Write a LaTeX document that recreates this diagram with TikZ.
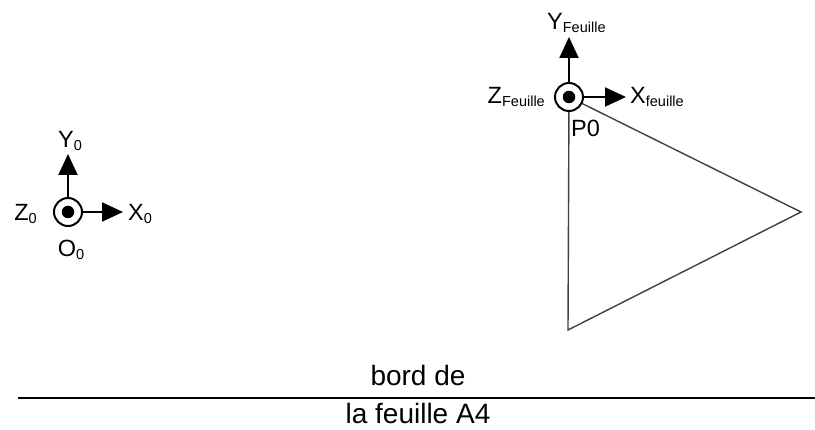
\documentclass[tikz,border=0pt]{standalone}
\usepackage{fontspec}
\setmainfont{Liberation Sans}
\usetikzlibrary{arrows.meta}
\newcommand{\mysub}[1]{\raisebox{-2.5pt}{\fontsize{14.5}{14.5}\selectfont #1}}
\begin{document}
\begin{tikzpicture}[x=1pt,y=-1pt,
  axisarrow/.style={line width=2pt,-{Triangle[length=21pt,width=19pt]}},
  axislabel/.style={inner sep=0pt,font=\fontsize{23.5}{23.5}\selectfont},
  origin/.style={circle,draw,line width=2pt,fill=white,minimum size=28pt,inner sep=0pt},
  origindot/.style={circle,fill=black,minimum size=12.5pt,inner sep=0pt},
  shapeline/.style={line width=1.4pt,draw=black!75},
  bordtext/.style={inner sep=0pt,font=\fontsize{28}{28}\selectfont}]
\useasboundingbox (0,0) rectangle (815,430);

% sheet edge
\coordinate (e1) at (18,398);
\coordinate (e2) at (815,398);
\draw[line width=2.5pt] (e1) -- (e2);
\node[bordtext,anchor=base] (bord) at (418,386) {bord de};
\node[bordtext,anchor=base] (feuille) at (418,424) {la feuille A4};

% triangle (sheet)
\coordinate (P) at (569,97);
\coordinate (T2) at (801,212);
\coordinate (T3) at (568,330);
\draw[shapeline] (P) -- (T2) -- (T3) -- cycle;

% frame 0
\coordinate (O) at (68,212);
\coordinate (Y0tip) at (68,154);
\coordinate (X0tip) at (123,212);
\draw[axisarrow] (O) -- (Y0tip);
\draw[axisarrow] (O) -- (X0tip);
\node[origin] (Ocirc) at (O) {};
\node[origindot] (Odot) at (O) {};
\node[axislabel,anchor=base] (Y0lab) at (70,148) {Y\mysub{0}};
\node[axislabel,anchor=base east] (Z0lab) at (37,221) {Z\mysub{0}};
\node[axislabel,anchor=base west] (X0lab) at (128,221) {X\mysub{0}};
\node[axislabel,anchor=base] (O0lab) at (71,257) {O\mysub{0}};

% frame Feuille
\coordinate (YFtip) at (569,37);
\coordinate (XFtip) at (626,97);
\draw[axisarrow] (P) -- (YFtip);
\draw[axisarrow] (P) -- (XFtip);
\node[origin] (Pcirc) at (P) {};
\node[origindot] (Pdot) at (P) {};
\node[axislabel,anchor=base west] (YFlab) at (547,30) {Y\mysub{Feuille}};
\node[axislabel,anchor=base east] (ZFlab) at (545,104) {Z\mysub{Feuille}};
\node[axislabel,anchor=base west] (XFlab) at (630,104) {X\mysub{feuille}};
\node[axislabel,anchor=base west] (P0lab) at (571,137) {P0};
\end{tikzpicture}
\end{document}
